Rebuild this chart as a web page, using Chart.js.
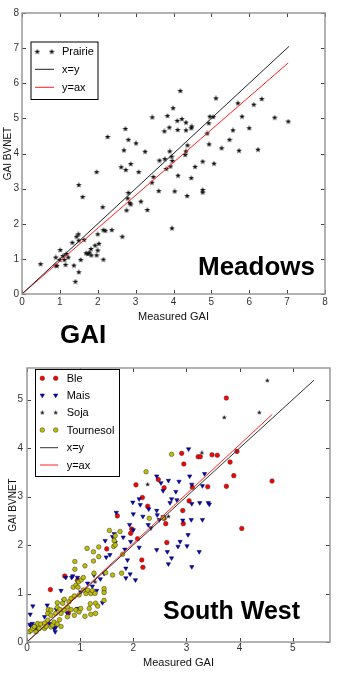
<!DOCTYPE html>
<html lang="en">
<head>
<meta charset="UTF-8">
<title>GAI BVNET vs measured GAI</title>
<script src="https://cdn.jsdelivr.net/npm/chart.js"></script>
<style>
  body {
    margin: 0;
    background: #fff;
    width: 348px;
    height: 673px;
    position: relative;
    overflow: hidden;
    font-family: "Liberation Sans", Arial, sans-serif;
  }
  canvas { position: absolute; left: 0; }
  #meadowsChart { top: 0; }
  #southWestChart { top: 340px; }
  .big {
    position: absolute;
    font-weight: bold;
    line-height: 1;
    color: #000;
    white-space: nowrap;
  }
</style>
</head>
<body>
<canvas id="meadowsChart" width="348" height="330"></canvas>
<canvas id="southWestChart" width="348" height="333"></canvas>
<div class="big" style="left:198px;top:253px;font-size:26px">Meadows</div>
<div class="big" style="left:60px;top:321px;font-size:26px">GAI</div>
<div class="big" style="left:163px;top:598px;font-size:25px">South West</div>

<script>
// ---- data: [measured GAI, GAI BVNET] ----
const prairie = [[0.49,0.85],[0.89,1.04],[0.89,0.81],[0.92,0.80],[1.01,1.25],[1.00,0.97],[1.08,1.08],[1.12,0.97],
  [1.15,0.83],[1.17,1.14],[1.22,1.04],[1.33,1.46],[1.37,0.81],[1.41,0.35],[1.44,1.63],[1.49,1.70],[1.50,0.62],
  [1.50,3.10],[1.50,1.52],[1.55,0.97],[1.60,2.76],[1.64,1.54],[1.69,1.16],[1.74,1.14],[1.78,1.18],[1.82,1.28],
  [1.83,1.10],[1.93,1.38],[1.97,3.47],[1.97,1.10],[2.00,1.24],[2.00,1.70],[2.03,1.43],[2.13,2.47],[2.15,0.98],
  [2.15,1.82],[2.20,1.80],[2.26,4.47],[2.37,1.82],[2.62,3.61],[2.65,1.63],[2.69,4.09],[2.73,4.70],[2.74,3.53],
  [2.76,2.38],[2.79,2.72],[2.81,4.39],[2.81,2.88],[2.84,2.59],[2.87,3.70],[2.87,2.55],[3.01,4.29],[3.08,3.47],
  [3.14,2.63],[3.25,4.05],[3.31,2.39],[3.43,3.17],[3.44,5.03],[3.47,3.33],[3.61,2.93],[3.63,3.80],[3.76,4.63],
  [3.77,3.84],[3.81,3.56],[3.84,5.07],[3.89,4.74],[3.90,4.06],[3.92,3.63],[3.95,3.91],[3.96,1.87],[3.97,3.79],
  [3.99,5.29],[4.03,2.92],[4.10,4.93],[4.12,3.37],[4.11,4.67],[4.18,5.78],[4.22,4.98],[4.31,3.96],[4.33,4.88],
  [4.33,4.66],[4.33,4.06],[4.36,2.79],[4.37,4.23],[4.47,3.30],[4.47,4.72],[4.48,4.77],[4.57,3.62],[4.77,3.77],
  [4.77,2.96],[4.77,2.89],[4.89,4.57],[4.93,4.86],[4.94,4.26],[4.96,5.05],[5.05,5.04],[5.07,3.71],[5.12,5.57],
  [5.27,4.15],[5.48,4.39],[5.57,4.66],[5.70,5.43],[5.73,4.08],[5.81,5.05],[6.00,4.72],[6.12,5.39],[6.23,4.11],
  [6.33,5.55],[6.67,5.02],[7.03,4.91]];
const meadowsXeqY = [[0,0],[7.05,7.05]];
const meadowsYeqAx = [[0,0],[7.03,6.58]];
const meadowsTicks = [0,1,2,3,4,5,6,7,8];

const ble = [[0.44,1.08],[0.71,1.36],[0.78,0.60],[0.95,1.27],[1.50,1.92],[1.70,2.60],[1.95,2.24],[1.97,2.33],
  [2.05,3.24],[2.08,2.13],[2.16,1.69],[2.18,1.54],[2.17,2.98],[2.27,2.80],[2.47,3.35],[2.58,3.18],[2.58,2.55],
  [2.61,2.44],[2.63,2.05],[2.91,3.89],[2.95,3.67],[2.93,2.71],[2.94,2.44],[3.05,2.91],[3.11,3.19],[3.22,3.82],
  [3.26,3.82],[3.40,3.20],[3.48,3.86],[3.58,3.85],[3.75,5.03],[3.75,3.21],[3.82,3.71],[3.89,3.43],[3.95,3.93],
  [4.04,2.34],[4.61,3.32]];
const mais = [[0.06,0.57],[0.11,0.74],[0.05,0.36],[0.08,0.32],[0.10,0.38],[0.12,0.28],[0.14,0.34],[0.16,0.30],
  [0.06,0.22],[0.20,0.25],[0.33,0.52],[0.38,0.76],[0.42,0.38],[0.51,0.28],[0.53,0.21],[0.54,0.30],[0.55,0.67],
  [0.64,1.06],[0.69,0.86],[0.73,1.33],[0.76,0.59],[0.84,1.33],[0.86,1.36],[0.95,1.33],[0.95,0.69],[1.01,1.03],
  [1.14,1.21],[1.23,1.15],[1.26,1.38],[1.31,1.06],[1.38,1.30],[1.42,0.81],[1.45,1.03],[1.45,1.41],[1.47,2.09],
  [1.49,1.75],[1.56,1.80],[1.61,2.17],[1.64,2.23],[1.66,2.05],[1.68,2.67],[1.81,2.16],[1.84,1.91],[1.86,1.52],
  [1.86,1.32],[1.89,1.69],[1.93,2.42],[1.94,1.40],[1.95,2.07],[1.99,2.88],[2.00,2.31],[2.00,2.64],[2.04,1.28],
  [2.11,2.95],[2.11,1.95],[2.13,2.83],[2.18,2.59],[2.28,2.42],[2.29,2.74],[2.33,2.35],[2.44,3.42],[2.44,2.71],
  [2.45,2.62],[2.44,1.90],[2.49,2.52],[2.52,3.28],[2.56,3.12],[2.56,2.58],[2.64,1.86],[2.66,3.33],[2.66,1.61],
  [2.69,2.87],[2.72,2.95],[2.72,1.73],[2.80,3.10],[2.82,2.93],[2.84,1.97],[2.86,3.31],[2.88,2.07],[2.93,2.51],
  [3.01,1.98],[3.03,2.21],[3.04,3.98],[3.06,3.42],[3.09,2.52],[3.10,3.25],[3.10,1.55],[3.10,2.85],[3.25,2.87],
  [3.24,1.86],[3.30,3.22],[3.30,2.52],[3.34,3.47],[3.41,2.87],[3.43,2.84]];
const soja = [[0.15,0.27],[0.50,0.35],[0.88,0.92],[1.28,1.24],[2.27,3.25],[2.66,2.59],[3.29,3.90],[3.71,4.63],
  [4.37,4.73],[4.52,5.39]];
const tournesol = [[0.04,0.21],[0.08,0.24],[0.11,0.28],[0.14,0.32],[0.17,0.21],[0.20,0.38],[0.23,0.28],[0.26,0.37],
  [0.33,0.39],[0.33,0.28],[0.36,0.32],[0.39,0.45],[0.39,0.59],[0.40,0.67],[0.45,0.66],[0.45,0.55],[0.45,0.31],
  [0.48,0.35],[0.51,0.41],[0.54,0.59],[0.57,0.81],[0.57,0.71],[0.57,0.37],[0.61,0.46],[0.62,0.67],[0.64,0.59],
  [0.64,0.32],[0.67,0.80],[0.70,0.88],[0.70,0.66],[0.76,0.72],[0.76,0.52],[0.79,0.83],[0.83,0.90],[0.83,0.67],
  [0.87,1.13],[0.89,0.95],[0.89,0.55],[0.90,1.66],[0.90,1.50],[0.92,1.17],[0.92,0.66],[0.96,1.13],[0.97,1.24],
  [0.98,0.97],[0.98,0.62],[1.01,0.69],[1.02,1.28],[1.06,1.33],[1.06,1.07],[1.09,1.57],[1.09,0.53],[1.11,1.00],
  [1.13,1.93],[1.14,1.07],[1.17,0.69],[1.19,0.79],[1.20,0.57],[1.20,1.00],[1.23,1.06],[1.25,1.67],[1.25,1.86],
  [1.26,1.42],[1.28,1.00],[1.29,0.80],[1.29,0.59],[1.33,0.74],[1.35,1.96],[1.35,1.76],[1.45,0.86],[1.45,1.10],
  [1.45,1.02],[1.48,1.43],[1.55,2.30],[1.61,1.38],[1.63,1.97],[1.64,2.09],[1.66,2.19],[1.66,2.00],[1.75,2.28],
  [1.78,1.42],[1.80,1.81],[2.24,3.51],[2.30,2.55],[2.56,2.56],[2.72,3.87]];
const swXeqY = [[0,0],[5.4,5.4]];
const swYeqAx = [[0,0],[4.61,4.69]];
const swTicks = [0,1,2,3,4,5];

// ---- marker images ----
function starImage(size, color) {
  const c = document.createElement('canvas');
  c.width = size; c.height = size;
  const g = c.getContext('2d');
  const r = size / 2, ri = r * 0.42;
  g.beginPath();
  for (let i = 0; i < 10; i++) {
    const a = -Math.PI / 2 + i * Math.PI / 5;
    const rr = i % 2 ? ri : r;
    g.lineTo(r + rr * Math.cos(a), r + rr * Math.sin(a));
  }
  g.closePath();
  g.fillStyle = color;
  g.fill();
  return c;
}
const bigStar = starImage(6, '#111');
const smallStar = starImage(5, '#111');

const tickFont = { family: '"Liberation Sans", Arial, sans-serif', size: 10 };
const titleFont = { family: '"Liberation Sans", Arial, sans-serif', size: 11 };

// matplotlib-like frame with inward ticks on all four sides
const frameTicks = {
  id: 'frameTicks',
  afterDatasetsDraw(chart) {
    const { ctx, chartArea: a, scales: { x, y } } = chart;
    ctx.save();
    ctx.strokeStyle = '#444';
    ctx.lineWidth = 1;
    ctx.beginPath();
    x.ticks.forEach(t => {
      const px = Math.round(x.getPixelForValue(t.value)) + 0.5;
      ctx.moveTo(px, a.bottom); ctx.lineTo(px, a.bottom - 4);
      ctx.moveTo(px, a.top); ctx.lineTo(px, a.top + 4);
    });
    y.ticks.forEach(t => {
      const py = Math.round(y.getPixelForValue(t.value)) + 0.5;
      ctx.moveTo(a.left, py); ctx.lineTo(a.left + 4, py);
      ctx.moveTo(a.right, py); ctx.lineTo(a.right - 4, py);
    });
    ctx.stroke();
    ctx.strokeStyle = '#999';
    ctx.lineWidth = 1.5;
    ctx.strokeRect(a.left, a.top, a.width, a.height);
    ctx.restore();
  }
};

// boxed legend inside the plot, drawn from the chart's own datasets
function boxLegend(box) {
  return {
    id: 'boxLegend',
    afterDraw(chart) {
      const { ctx } = chart;
      ctx.save();
      ctx.fillStyle = '#fff';
      ctx.fillRect(box.x, box.y, box.w, box.h);
      ctx.strokeStyle = '#000';
      ctx.lineWidth = 1;
      ctx.strokeRect(box.x + 0.5, box.y + 0.5, box.w, box.h);
      ctx.font = '11px "Liberation Sans", Arial, sans-serif';
      ctx.textBaseline = 'middle';
      chart.data.datasets.forEach(ds => {
        const yy = box.rows[ds.legendRow];
        if (ds.showLine) {
          ctx.strokeStyle = ds.borderColor;
          ctx.lineWidth = 1;
          ctx.beginPath();
          ctx.moveTo(box.line[0], yy); ctx.lineTo(box.line[1], yy);
          ctx.stroke();
        } else {
          ctx.fillStyle = ds.backgroundColor;
          ctx.strokeStyle = ds.borderColor;
          ctx.lineWidth = ds.borderWidth;
          box.marks.forEach(mx => Chart.helpers.drawPoint(ctx, {
            pointStyle: ds.pointStyle, radius: ds.pointRadius,
            rotation: ds.rotation || 0, borderWidth: ds.borderWidth
          }, mx, yy));
        }
        ctx.fillStyle = '#000';
        ctx.fillText(ds.label, box.textX, yy + 0.5);
      });
      ctx.restore();
    }
  };
}

function axes(maxX, maxY, ticks, geo) {
  return {
    x: {
      type: 'linear', min: 0, max: maxX,
      afterBuildTicks: s => { s.ticks = ticks.map(v => ({ value: v })); },
      afterFit: s => { s.height = geo.xh; },
      grid: { display: false, drawTicks: false },
      border: { display: false },
      ticks: { font: tickFont, color: '#333', padding: geo.xtp, maxRotation: 0 },
      title: { display: true, text: 'Measured GAI', font: titleFont, color: '#111',
               padding: { top: 0, bottom: geo.xtb } }
    },
    y: {
      type: 'linear', min: 0, max: maxY,
      afterBuildTicks: s => { s.ticks = ticks.map(v => ({ value: v })); },
      afterFit: s => { s.width = geo.yw; },
      grid: { display: false, drawTicks: false },
      border: { display: false },
      ticks: { font: tickFont, color: '#333', padding: geo.ytp },
      title: { display: true, text: 'GAI BVNET', font: { ...titleFont, size: 10 }, color: '#111',
               padding: { top: geo.ytt, bottom: 0 } }
    }
  };
}

const pts = (label, data, extra) => Object.assign({
  type: 'scatter', label, data, showLine: false, borderWidth: 0.5, pointHoverRadius: 0
}, extra);
const line = (label, data, color, row) => ({
  type: 'line', label, data, showLine: true, borderColor: color, borderWidth: 1,
  pointRadius: 0, fill: false, order: 0, legendRow: row
});

// ---- Meadows ----
new Chart(document.getElementById('meadowsChart'), {
  type: 'scatter',
  data: {
    datasets: [
      pts('Prairie', prairie, { pointStyle: bigStar, pointRadius: 3, backgroundColor: '#000',
        borderColor: '#000', order: 1, legendRow: 0 }),
      line('x=y', meadowsXeqY, '#222', 1),
      line('y=ax', meadowsYeqAx, '#ff2020', 2)
    ]
  },
  options: {
    responsive: false, animation: false, devicePixelRatio: 1,
    layout: { padding: { top: 13, right: 23, left: 0, bottom: 0 } },
    plugins: { legend: { display: false }, tooltip: { enabled: false } },
    scales: axes(8, 8, meadowsTicks, { xh: 36, xtp: 2, xtb: 6, yw: 22, ytp: 3, ytt: 2 })
  },
  plugins: [frameTicks, boxLegend({ x: 30.5, y: 41.5, w: 67, h: 57.5,
    rows: [51.7, 69.3, 87.3], marks: [37.3, 51.7], line: [35, 54], textX: 62 })]
});

// ---- South West ----
new Chart(document.getElementById('southWestChart'), {
  type: 'scatter',
  data: {
    datasets: [
      pts('Ble', ble, { pointStyle: 'circle', pointRadius: 2.3, backgroundColor: '#ff0000',
        borderColor: '#333', order: 4, legendRow: 0 }),
      pts('Mais', mais, { pointStyle: 'triangle', rotation: 180, pointRadius: 2.5, backgroundColor: '#0000ee',
        borderColor: '#000', order: 3, legendRow: 1 }),
      pts('Soja', soja, { pointStyle: smallStar, pointRadius: 3, backgroundColor: '#000',
        borderColor: '#000', order: 2, legendRow: 2 }),
      pts('Tournesol', tournesol, { pointStyle: 'circle', pointRadius: 2.3, backgroundColor: '#bfbf00',
        borderColor: '#333', order: 1, legendRow: 3 }),
      line('x=y', swXeqY, '#333', 4),
      line('y=ax', swYeqAx, '#ff2020', 5)
    ]
  },
  options: {
    responsive: false, animation: false, devicePixelRatio: 1,
    layout: { padding: { top: 28, right: 18, left: 0, bottom: 0 } },
    plugins: { legend: { display: false }, tooltip: { enabled: false } },
    scales: axes(5.7, 5.65, swTicks, { xh: 31, xtp: 0, xtb: 3, yw: 27, ytp: 4, ytt: 7 })
  },
  plugins: [frameTicks, boxLegend({ x: 35, y: 29, w: 84, h: 107,
    rows: [38.3, 55.3, 72.7, 90, 107.7, 125], marks: [42.3, 55.7], line: [40, 58], textX: 66.7 })]
});
</script>
</body>
</html>
